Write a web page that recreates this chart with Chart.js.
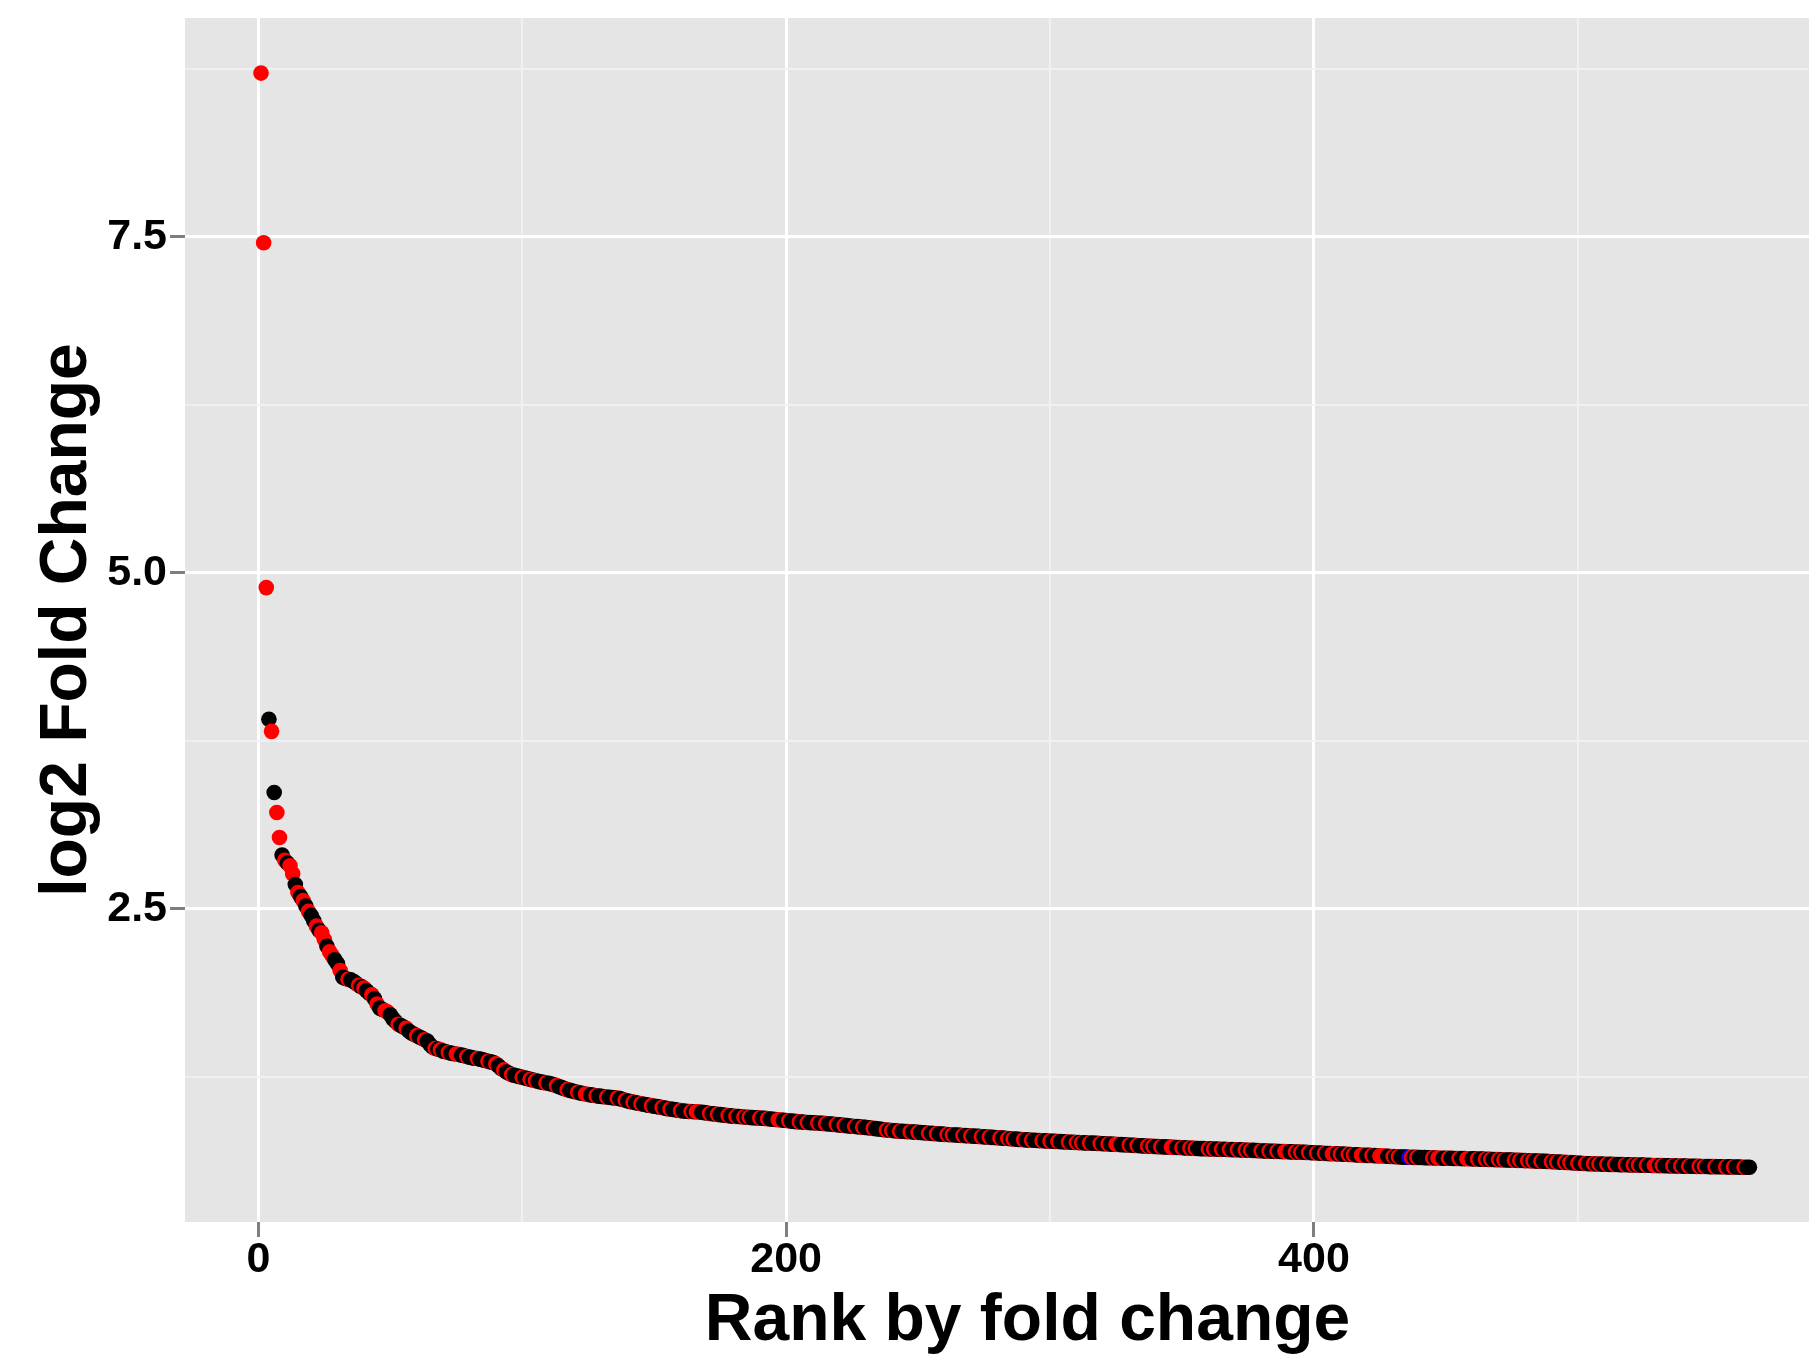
<!DOCTYPE html>
<html><head><meta charset="utf-8">
<script src="https://cdn.jsdelivr.net/npm/chart.js@4/dist/chart.umd.min.js"></script>
<style>
html,body{margin:0;padding:0;background:#fff;overflow:hidden;width:1809px;height:1355px;}
#wrap{position:absolute;left:0;top:0;width:1870px;height:1355px;}
</style></head><body>
<div id="wrap"><canvas id="c" width="1870" height="1355"></canvas></div>
<script>
// log2 fold change, sorted by rank (rank = position in list, 1-based)
const values = [
8.72,7.457,4.89,3.91,3.82,3.365,3.216,3.03,2.90,2.86,
2.84,2.82,2.76,2.68,2.62,2.59,2.56,2.52,2.48,2.45,
2.41,2.37,2.34,2.32,2.27,2.22,2.18,2.15,2.12,2.09,
2.04,1.99,1.98,1.975,1.97,1.96,1.945,1.93,1.92,1.91,
1.89,1.87,1.86,1.83,1.79,1.76,1.75,1.74,1.73,1.71,
1.68,1.66,1.64,1.63,1.62,1.61,1.59,1.575,1.565,1.555,
1.545,1.535,1.525,1.515,1.49,1.47,1.46,1.455,1.45,1.44,
1.435,1.43,1.425,1.42,1.418,1.415,1.41,1.405,1.40,1.395,
1.39,1.387,1.385,1.38,1.375,1.37,1.365,1.36,1.355,1.345,
1.33,1.31,1.30,1.285,1.275,1.265,1.26,1.255,1.25,1.245,
1.24,1.235,1.23,1.225,1.22,1.215,1.21,1.207,1.203,1.2,
1.195,1.19,1.183,1.175,1.168,1.16,1.153,1.148,1.143,1.138,
1.133,1.128,1.124,1.12,1.117,1.114,1.111,1.108,1.105,1.103,
1.1,1.098,1.096,1.094,1.092,1.09,1.086,1.08,1.074,1.069,
1.064,1.06,1.056,1.052,1.048,1.044,1.04,1.037,1.034,1.03,
1.027,1.024,1.02,1.016,1.012,1.009,1.006,1.003,1.0,0.997,
0.994,0.992,0.991,0.99,0.989,0.988,0.987,0.985,0.982,0.979,
0.976,0.974,0.972,0.969,0.967,0.965,0.962,0.96,0.958,0.955,
0.954,0.953,0.951,0.95,0.948,0.947,0.945,0.944,0.943,0.942,
0.94,0.939,0.937,0.935,0.933,0.931,0.929,0.927,0.925,0.923,
0.921,0.919,0.917,0.915,0.913,0.912,0.911,0.909,0.908,0.907,
0.906,0.905,0.903,0.902,0.9,0.898,0.897,0.895,0.893,0.891,
0.889,0.887,0.885,0.883,0.881,0.879,0.878,0.876,0.874,0.872,
0.87,0.868,0.865,0.863,0.86,0.858,0.855,0.853,0.851,0.849,
0.847,0.845,0.844,0.843,0.842,0.841,0.84,0.838,0.837,0.835,
0.834,0.832,0.831,0.829,0.828,0.826,0.825,0.823,0.822,0.82,
0.819,0.818,0.817,0.816,0.815,0.813,0.812,0.811,0.81,0.808,
0.807,0.806,0.805,0.803,0.802,0.801,0.8,0.798,0.797,0.795,
0.794,0.792,0.791,0.789,0.788,0.786,0.785,0.783,0.782,0.78,
0.779,0.778,0.777,0.776,0.775,0.774,0.773,0.772,0.771,0.77,
0.769,0.768,0.767,0.766,0.765,0.764,0.763,0.762,0.761,0.76,
0.759,0.758,0.757,0.756,0.756,0.755,0.754,0.753,0.752,0.751,
0.75,0.749,0.748,0.747,0.746,0.745,0.744,0.743,0.742,0.741,
0.739,0.738,0.737,0.736,0.735,0.734,0.733,0.732,0.731,0.73,
0.729,0.728,0.727,0.726,0.726,0.725,0.724,0.723,0.722,0.721,
0.72,0.719,0.718,0.717,0.716,0.715,0.714,0.714,0.713,0.712,
0.712,0.711,0.711,0.71,0.709,0.709,0.708,0.707,0.707,0.706,
0.705,0.705,0.704,0.703,0.702,0.702,0.701,0.7,0.699,0.698,
0.697,0.696,0.696,0.695,0.694,0.694,0.693,0.692,0.692,0.691,
0.69,0.69,0.689,0.688,0.688,0.687,0.686,0.685,0.684,0.683,
0.682,0.681,0.68,0.679,0.678,0.677,0.676,0.676,0.675,0.674,
0.673,0.672,0.671,0.67,0.669,0.668,0.667,0.666,0.665,0.664,
0.664,0.663,0.662,0.661,0.66,0.659,0.658,0.657,0.656,0.655,
0.654,0.653,0.652,0.651,0.651,0.65,0.65,0.649,0.649,0.648,
0.648,0.647,0.646,0.646,0.645,0.644,0.644,0.643,0.643,0.642,
0.642,0.642,0.641,0.641,0.641,0.64,0.64,0.639,0.639,0.638,
0.638,0.637,0.636,0.636,0.635,0.634,0.634,0.633,0.632,0.632,
0.631,0.63,0.63,0.629,0.629,0.628,0.627,0.627,0.626,0.625,
0.624,0.624,0.623,0.622,0.621,0.621,0.62,0.619,0.618,0.617,
0.616,0.615,0.614,0.613,0.612,0.611,0.61,0.609,0.607,0.606,
0.605,0.604,0.603,0.602,0.602,0.601,0.6,0.6,0.599,0.598,
0.598,0.597,0.597,0.596,0.596,0.595,0.595,0.594,0.594,0.593,
0.593,0.592,0.592,0.591,0.591,0.59,0.59,0.589,0.589,0.588,
0.588,0.588,0.587,0.587,0.586,0.586,0.585,0.585,0.585,0.584,
0.584,0.583,0.583,0.583,0.582,0.582,0.581,0.581,0.581,0.58,
0.58,0.58,0.579,0.579,0.579,0.578,0.578,0.578,0.577,0.577,
0.577,0.576,0.576,0.576,0.575
];
// point group per rank: r = red, k = black, b = blue
const groups = "rrrkrkrrkr krrkrkrkrk krkrrkrrkk rkkrkkkrkr kkrkrkkrrk kkrkkrkkkr kkrkkkrkrk krkkrrkkrk kkrkkkrkkr kkrkkrkkkr " +
"kkrkrkkkrk kkrkkkrkkk rkkrrkkrkk krkkkrkkrk krkkrkkkrk kkrkkrkkkr kkkrkrrkkk rkkrkkkrkk rkkrkrkkkr kkrkkkrrkk " +
"rkkkrkkrkk krkkrkkkrk krkkkrkkrk kkrkkkkrkr kkrkkkrkkr kkkrkkrkkk rkrkkkrkkr kkkrkkrkkk rkkrkrkkkr kkrkkkrkkr " +
"kkrkkkrkkr krkkrkkkrk krkkrrkkkr kkrkkkrkrk krkkkrrkkr kkrkrkkkkr krkkrkkrkk rkkrkrkkkr kkrkkrkkrr kkrkrkkrkk " +
"rkkrkkrrkr kkrkrkkrrk krkkrrrkkr krkkkbrkrk kkkkrkrrkk rkkkrkkrrk krkkrkrkkr krkkkrkrkk rkrkkrkkkr krkkrkrkkr " +
"kkrkkrkrkk rkkrkkkrkk rkrkkrkkrr krkkkrkkrk krkkkrkrkk krkkkrkkrk kkrkk";
const groupColors = {r: "#FF0000", k: "#000000", b: "#0000FF"};
const xTickValues = [0, 100, 200, 300, 400, 500];
const xTickLabels = {0: "0", 200: "200", 400: "400"};
const yTickValues = [1.25, 2.5, 3.75, 5, 6.25, 7.5, 8.75];
const yTickLabels = {2.5: "2.5", 5: "5.0", 7.5: "7.5"};

const codes = groups.replace(/ /g, "").split("");
const points = values.map((v, i) => ({x: i + 1, y: v}));
const pointColors = values.map((v, i) => groupColors[codes[i]] || "#000000");

const panelBg = {
  id: "panelBg",
  beforeDraw(chart) {
    const {ctx, chartArea: {left, top, width, height}} = chart;
    ctx.save();
    ctx.fillStyle = "#E5E5E5";
    ctx.fillRect(left, top, width, height);
    ctx.restore();
  }
};

const isMajorX = v => xTickLabels[v] !== undefined;
const isMajorY = v => yTickLabels[v] !== undefined;
const FONT = "'Liberation Sans', Arial, Helvetica, sans-serif";

new Chart(document.getElementById("c"), {
  type: "scatter",
  data: {
    datasets: [{
      data: points,
      pointRadius: 7.8,
      pointHoverRadius: 7.8,
      pointBorderWidth: 0,
      pointBackgroundColor: pointColors,
      pointBorderColor: pointColors,
      showLine: false
    }]
  },
  plugins: [panelBg],
  options: {
    responsive: false,
    animation: false,
    events: [],
    layout: {autoPadding: false, padding: {top: 18, left: 0, right: 0, bottom: 0}},
    plugins: {legend: {display: false}, tooltip: {enabled: false}},
    scales: {
      x: {
        type: "linear",
        min: -27.8,
        max: 610.7,
        afterFit(scale) { scale.height = 133; scale.paddingLeft = 0; scale.paddingRight = 0; },
        afterBuildTicks(scale) { scale.ticks = xTickValues.map(v => ({value: v})); },
        border: {display: false},
        grid: {
          color: c => isMajorX(c.tick.value) ? "#FFFFFF" : "#F2F2F2",
          lineWidth: c => isMajorX(c.tick.value) ? 3 : 1.8,
          tickLength: 15,
          tickWidth: 3,
          tickColor: c => isMajorX(c.tick.value) ? "#7F7F7F" : "rgba(0,0,0,0)"
        },
        ticks: {
          autoSkip: false,
          maxRotation: 0,
          minRotation: 0,
          padding: -3,
          color: "#000000",
          font: {family: FONT, size: 43, weight: "bold"},
          callback: v => xTickLabels[v] !== undefined ? xTickLabels[v] : ""
        },
        title: {
          display: true,
          text: "Rank by fold change",
          color: "#000000",
          font: {family: FONT, size: 66, weight: "bold", lineHeight: 1.0},
          padding: {top: 0, bottom: 0}
        }
      },
      y: {
        type: "linear",
        min: 0.168,
        max: 9.13,
        afterFit(scale) { scale.width = 185; scale.paddingTop = 0; scale.paddingBottom = 0; },
        afterBuildTicks(scale) { scale.ticks = yTickValues.map(v => ({value: v})); },
        border: {display: false},
        grid: {
          color: c => isMajorY(c.tick.value) ? "#FFFFFF" : "#F2F2F2",
          lineWidth: c => isMajorY(c.tick.value) ? 3 : 1.8,
          tickLength: 15,
          tickWidth: 3,
          tickColor: c => isMajorY(c.tick.value) ? "#7F7F7F" : "rgba(0,0,0,0)"
        },
        ticks: {
          autoSkip: false,
          padding: 3,
          color: "#000000",
          font: {family: FONT, size: 43, weight: "bold"},
          callback: v => yTickLabels[v] !== undefined ? yTickLabels[v] : ""
        },
        title: {
          display: true,
          text: "log2 Fold Change",
          color: "#000000",
          font: {family: FONT, size: 66, weight: "bold", lineHeight: 1.0},
          padding: {top: 35, bottom: 0}
        }
      }
    }
  }
});
</script>
</body></html>
